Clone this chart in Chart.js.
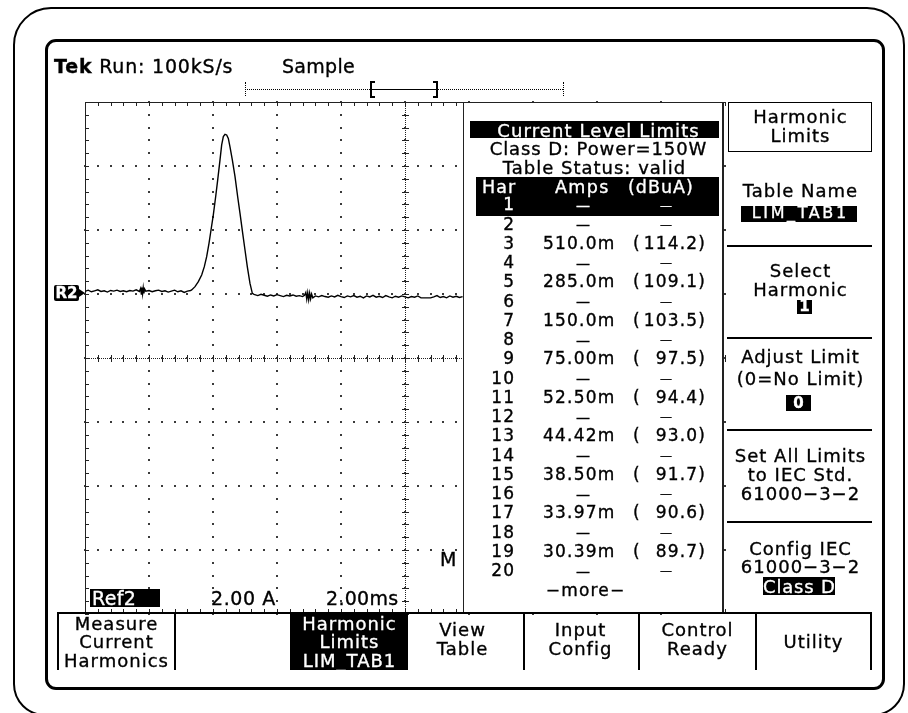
<!DOCTYPE html>
<html lang="en">
<head>
<meta charset="utf-8">
<title>Harmonic Limits</title>
<style>
  body { margin: 0; background: #fff; }
  #screen { position: relative; width: 908px; height: 713px; overflow: hidden; font-family: "DejaVu Sans", sans-serif; color: #000; }
  #chart { position: absolute; left: 0; top: 0; }
  #ui { position: absolute; left: 0; top: 0; width: 908px; height: 713px; }
  .box { position: absolute; box-sizing: border-box; }
  .t { position: absolute; white-space: nowrap; -webkit-text-stroke: 0.35px currentColor; }
</style>
</head>
<body>
<div id="screen">
  <div class="box" style="left:13px;top:7px;width:892px;height:709px;border:2px solid #000;border-radius:38px 38px 32px 32px"></div>
  <div class="box" style="left:45px;top:39px;width:840px;height:651px;border:3px solid #000;border-radius:11px"></div>
  <canvas id="chart" width="908" height="713"></canvas>
  <div id="ui"></div>
</div>
<script src="https://cdn.jsdelivr.net/npm/chart.js"></script>
<script>
// scope settings
var msPerDiv = 2;      // 2.00ms
var ampsPerDiv = 2;    // 2.00 A
var timeRange = [0, 20];
var ampRange = [-10, 6];

// Ref2 trace, time in ms, current in A (ground at R2 marker)
var traceTime = [0.0, 0.1, 0.2, 0.3, 0.4, 0.5, 0.6, 0.7, 0.8, 0.9, 1.0, 1.1, 1.2, 1.3, 1.4, 1.5, 1.6, 1.7,
  1.74, 1.76, 1.78, 1.8, 1.82, 1.84, 1.86, 1.9, 2.0, 2.1, 2.2, 2.3, 2.4, 2.5, 2.6, 2.7, 2.8, 2.9, 3.0, 3.1, 3.2, 3.3,
  3.333, 3.438, 3.542, 3.646, 3.729, 3.802, 3.875, 3.938, 4.01, 4.083, 4.146, 4.219, 4.271, 4.323, 4.375,
  4.427, 4.479, 4.531, 4.604, 4.688, 4.771, 4.844, 4.927, 5.0, 5.073, 5.156, 5.229, 5.281,
  5.4, 5.5, 5.6, 5.7, 5.8, 5.9, 6.0, 6.1, 6.2, 6.3, 6.4, 6.5, 6.6, 6.7, 6.8, 6.86,
  6.9, 6.93, 6.96, 6.99, 7.02, 7.05, 7.08, 7.12, 7.2, 7.3, 7.4, 7.5, 7.6, 7.7, 7.8, 7.9, 8.0,
  8.1, 8.2, 8.3, 8.4, 8.5, 8.6, 8.7, 8.8, 8.9, 9.0, 9.1, 9.2, 9.3, 9.4, 9.5, 9.6, 9.7, 9.8, 9.9, 10.0,
  10.1, 10.2, 10.3, 10.4, 10.5, 10.6, 10.7, 10.8, 10.9, 11.0, 11.1, 11.2, 11.3, 11.4, 11.5, 11.6, 11.7, 11.8];
var traceAmps = [0.08, 0.12, 0.07, 0.10, 0.13, 0.08, 0.10, 0.06, 0.11, 0.09, 0.12, 0.08, 0.10, 0.07, 0.11, 0.09, 0.13, 0.08,
  0.18, 0.00, 0.20, 0.01, 0.19, 0.02, 0.16, 0.09, 0.11, 0.07, 0.10, 0.12, 0.08, 0.10, 0.06, 0.09, 0.12, 0.07, 0.10, 0.05, 0.09, 0.11,
  0.125, 0.23, 0.385, 0.594, 0.854, 1.167, 1.583, 2.0, 2.47, 3.04, 3.56, 4.19, 4.66, 4.92, 4.99,
  4.97, 4.86, 4.6, 4.19, 3.67, 3.04, 2.52, 1.9, 1.375, 0.85, 0.33, 0.02, -0.01,
  -0.05, -0.01, -0.04, -0.07, -0.03, -0.06, -0.02, -0.05, -0.08, -0.04, -0.06, -0.03, -0.07, -0.05, -0.08, -0.04,
  0.05, -0.16, 0.04, -0.18, 0.03, -0.15, 0.00, -0.12, -0.06, -0.09, -0.05, -0.08, -0.10, -0.06, -0.09, -0.04, -0.08,
  -0.11, -0.06, -0.09, -0.05, -0.10, -0.07, -0.12, -0.06, -0.09, -0.04, -0.10, -0.07, -0.11, -0.05, -0.09, -0.12, -0.07, -0.10, -0.06, -0.09,
  -0.12, -0.08, -0.10, -0.06, -0.12, -0.12, -0.12, -0.12, -0.09, -0.05, -0.11, -0.08, -0.12, -0.06, -0.10, -0.07, -0.11, -0.08];

// harmonic limit table, Class D, 150 W
var harmonicOrder = [1, 2, 3, 4, 5, 6, 7, 8, 9, 10, 11, 12, 13, 14, 15, 16, 17, 18, 19, 20];
var limitMilliAmps = [null, null, 510.0, null, 285.0, null, 150.0, null, 75.00, null, 52.50, null, 44.42, null, 38.50, null, 33.97, null, 30.39, null];
var limitDbuA = [null, null, 114.2, null, 109.1, null, 103.5, null, 97.5, null, 94.4, null, 93.0, null, 91.7, null, 90.6, null, 89.7, null];

var sideMenu = [
  ['Table Name'],
  ['Select', 'Harmonic'],
  ['Adjust Limit', '(0=No Limit)'],
  ['Set All Limits', 'to IEC Std.', '61000\u22123\u22122'],
  ['Config IEC', '61000\u22123\u22122']
];
var bottomMenu = [
  { cx: 462, lines: ['View', 'Table'] },
  { cx: 580, lines: ['Input', 'Config'] },
  { cx: 697, lines: ['Control', 'Ready'] },
  { cx: 813, lines: ['Utility'] }
];

var layer = document.getElementById('ui');

function rect(x, y, w, h, css) {
  var d = document.createElement('div');
  d.className = 'box';
  d.style.cssText = 'left:' + x + 'px;top:' + y + 'px;width:' + w + 'px;height:' + h + 'px;' + (css || '');
  layer.appendChild(d);
  return d;
}

function put(str, x, base, o) {
  o = o || {};
  var size = o.size || 18, ls = o.ls == null ? 1 : o.ls;
  var d = document.createElement('div');
  d.className = 't';
  if (o.html) d.innerHTML = str; else d.textContent = str;
  d.style.fontSize = size + 'px';
  d.style.lineHeight = size + 'px';
  d.style.letterSpacing = ls + 'px';
  d.style.top = (base - 0.846 * size) + 'px';
  if (o.bold) d.style.fontWeight = 'bold';
  if (o.color) d.style.color = o.color;
  var align = o.align || 'left';
  if (align === 'center') { d.style.left = (x + ls / 2) + 'px'; d.style.transform = 'translateX(-50%)'; }
  else if (align === 'right') { d.style.left = (x + ls) + 'px'; d.style.transform = 'translateX(-100%)'; }
  else d.style.left = x + 'px';
  layer.appendChild(d);
  return d;
}

// graticule drawn from the chart scales
var graticule = {
  id: 'graticule',
  beforeDatasetsDraw: function (chart) {
    var c = chart.ctx, a = chart.chartArea, xs = chart.scales.x, ys = chart.scales.y;
    var px = function (v) { return Math.round(xs.getPixelForValue(v)); };
    var py = function (v) { return Math.round(ys.getPixelForValue(v)); };
    var nx = Math.round((xs.max - xs.min) / msPerDiv), ny = Math.round((ys.max - ys.min) / ampsPerDiv);
    var cx = px((xs.min + xs.max) / 2), cy = py((ys.min + ys.max) / 2);
    var i, j, x, y;
    c.save();
    c.fillStyle = '#3a3a3a';
    for (i = 1; i < nx; i++) {
      x = px(xs.min + i * msPerDiv);
      for (j = 0; j <= ny * 5; j++) c.fillRect(x - 1, py(ys.min + j * ampsPerDiv / 5) - 1, 2, 2);
    }
    for (i = 1; i < ny; i++) {
      y = py(ys.min + i * ampsPerDiv);
      for (j = 0; j <= nx * 5; j++) c.fillRect(px(xs.min + j * msPerDiv / 5) - 1, y - 1, 2, 2);
    }
    c.fillStyle = '#222';
    for (y = a.top; y < a.bottom; y += 2) c.fillRect(cx, y, 1, 1);
    for (x = a.left; x < a.right; x += 2) c.fillRect(x, cy, 1, 1);
    for (j = 0; j <= ny * 5; j++) {
      y = py(ys.min + j * ampsPerDiv / 5);
      c.fillRect(cx - 3, y, 7, 1);
      c.fillRect(a.left, y, 4, 1);
    }
    for (j = 0; j <= nx * 5; j++) {
      x = px(xs.min + j * msPerDiv / 5);
      c.fillRect(x, cy - 3, 1, 7);
      c.fillRect(x, a.top, 1, 4);
      c.fillRect(x, a.bottom - 5, 1, 4);
    }
    c.fillRect(a.left, a.top, a.right - a.left, 1);
    c.fillRect(a.left, a.top, 1, a.bottom - a.top);
    for (x = a.left; x < a.right; x += 2) c.fillRect(x, a.bottom - 1, 1, 1);
    c.restore();
  }
};

var ctx = document.getElementById('chart').getContext('2d');
var chart = new Chart(ctx, {
  type: 'line',
  data: {
    datasets: [{
      label: 'Ref2',
      data: traceTime.map(function (t, i) { return { x: t, y: traceAmps[i] }; }),
      borderColor: '#000',
      borderWidth: 1.4,
      pointRadius: 0,
      tension: 0,
      fill: false
    }]
  },
  options: {
    responsive: false,
    animation: false,
    devicePixelRatio: 1,
    layout: { padding: { left: 85, top: 102, right: 183, bottom: 99 } },
    plugins: { legend: { display: false }, tooltip: { enabled: false } },
    scales: {
      x: { type: 'linear', min: timeRange[0], max: timeRange[1], display: false },
      y: { min: ampRange[0], max: ampRange[1], display: false }
    }
  },
  plugins: [graticule]
});

// header
put('<b>Tek</b> Run: 100kS/s', 54, 73, { size: 19, ls: 0.8, html: true });
put('Sample', 282, 73, { size: 19, ls: 0.3 });
rect(245, 89, 127, 1, 'border-top:1px dotted #000');
rect(437, 89, 126, 1, 'border-top:1px dotted #000');
rect(372, 89, 65, 1, 'background:#000');
rect(245, 82, 1, 14, 'border-left:1px dotted #000');
rect(563, 82, 1, 14, 'border-left:1px dotted #000');
rect(370, 81, 5, 17, 'border:2px solid #000;border-right:none');
rect(433, 81, 5, 17, 'border:2px solid #000;border-left:none');

// trace markers and readouts
rect(54, 285, 25, 16, 'background:#000;border-radius:2px');
put('R2', 66.5, 298.5, { size: 15, ls: 0, bold: true, color: '#fff', align: 'center' });
rect(79, 289, 0, 0, 'border-top:4px solid transparent;border-bottom:4px solid transparent;border-left:6px solid #000');
put('M', 440, 566, { size: 19, ls: 0 });
rect(90, 589, 70, 18, 'background:#000');
put('Ref2', 92, 605, { size: 19, ls: 0.3, color: '#fff' });
put('2.00 A', 211, 605, { size: 19, ls: 0.6 });
put('2.00ms', 326, 605, { size: 19, ls: 0.3 });

// limit table
rect(463, 102, 261, 512, 'background:#fff;border:1px solid #222;border-right-width:2px');
rect(470, 121, 249, 17, 'background:#000');
put('Current Level Limits', 598, 137, { size: 18, ls: 1.1, color: '#fff', align: 'center' });
put('Class D: Power=150W', 598, 155, { size: 18, ls: 0.9, align: 'center' });
put('Table Status: valid', 594, 174, { size: 18, ls: 1, align: 'center' });
rect(476, 177, 243, 39, 'background:#000');
put('Har', 482, 194, { size: 17.5, ls: 1, color: '#fff' });
put('Amps', 555, 194, { size: 17.5, ls: 1.4, color: '#fff' });
put('(dBuA)', 628, 194, { size: 17.5, ls: 1, color: '#fff' });
harmonicOrder.forEach(function (n, i) {
  var base = 230 + (n - 2) * 19.25;
  var col = n === 1 ? '#fff' : '#000';
  var o = { size: 17, ls: 1.2, color: col };
  put(String(n), 514, base, { size: 17, ls: 1.2, color: col, align: 'right' });
  if (limitMilliAmps[i] == null) {
    put('\u2014', 583, base - 1, { size: 14, ls: 0, color: col, align: 'center' });
    put('\u2014', 666, base - 1, { size: 12, ls: 0, color: col, align: 'center' });
  } else {
    put(limitMilliAmps[i].toPrecision(4) + 'm', 543, base, o);
    put('(', 633, base, o);
    put(limitDbuA[i].toFixed(1) + ')', 705, base, { size: 17, ls: 1.2, color: col, align: 'right' });
  }
});
put('\u2212more\u2212', 585, 596, { size: 17, ls: 1.2, align: 'center' });

// side menu
rect(728, 102, 144, 50, 'border:1.5px solid #000');
put('Harmonic', 800, 123, { align: 'center' });
put('Limits', 800, 142, { align: 'center' });
[245, 337, 429, 521].forEach(function (y) { rect(727, y, 145, 2, 'background:#000'); });
var sideBase = [[197], [277, 296], [363, 385], [462, 481, 500], [555, 573]];
sideMenu.forEach(function (lines, k) {
  lines.forEach(function (s, j) { put(s, 800, sideBase[k][j], { align: 'center' }); });
});
rect(741, 206, 116, 16, 'background:#000;overflow:hidden');
put('LIM_TAB1', 799, 218.5, { size: 16, ls: 2.6, color: '#fff', align: 'center' });
rect(797, 300, 15, 14, 'background:#000');
put('1', 804.5, 312, { size: 15, ls: 0, bold: true, color: '#fff', align: 'center' });
rect(786, 395, 25, 16, 'background:#000');
put('0', 798.5, 409, { size: 15, ls: 0, bold: true, color: '#fff', align: 'center' });
rect(763, 577, 72, 18, 'background:#000');
put('Class D', 799, 593, { size: 18, ls: 0.8, color: '#fff', align: 'center' });

// bottom menu
rect(57, 612, 815, 2, 'background:#000');
[57, 174, 523, 638, 755, 870].forEach(function (x) { rect(x, 612, 2, 58, 'background:#000'); });
rect(290, 612, 118, 58, 'background:#000');
['Measure', 'Current', 'Harmonics'].forEach(function (s, j) { put(s, 116, 630 + j * 18.5, { align: 'center' }); });
['Harmonic', 'Limits', 'LIM_TAB1'].forEach(function (s, j) { put(s, 349, 630 + j * 18.5, { align: 'center', color: '#fff' }); });
bottomMenu.forEach(function (m) {
  var b0 = m.lines.length === 1 ? 648 : 636;
  m.lines.forEach(function (s, j) { put(s, m.cx, b0 + j * 19, { align: 'center' }); });
});
</script>
</body>
</html>
